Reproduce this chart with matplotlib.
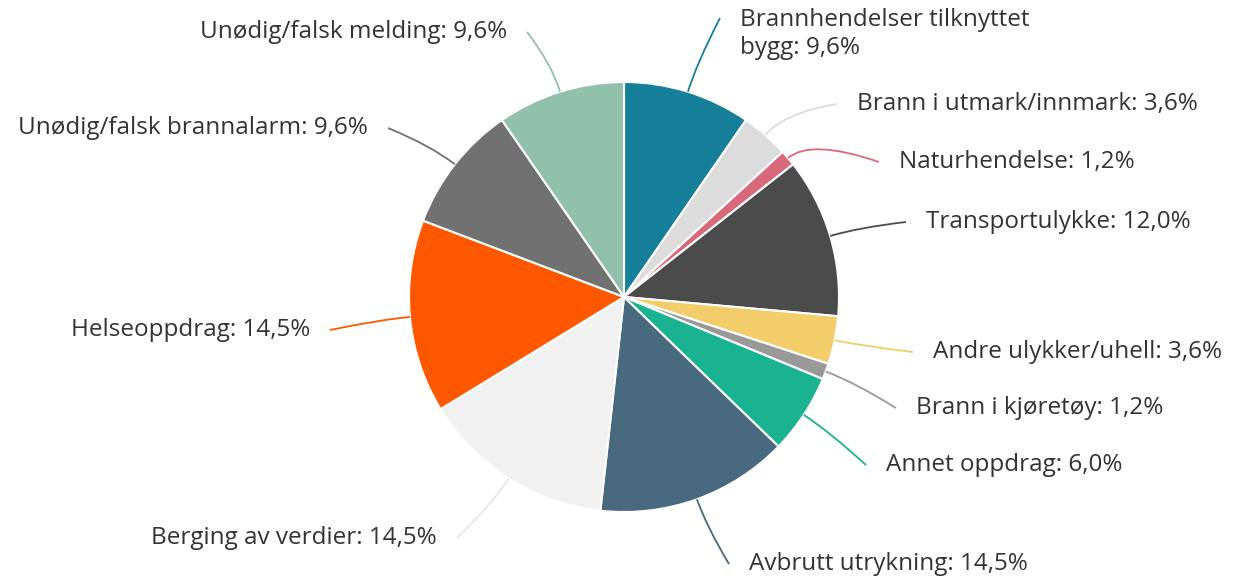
import matplotlib.pyplot as plt
import numpy as np
from matplotlib.path import Path
from matplotlib.patches import PathPatch

plt.rcParams['font.family'] = ['Open Sans', 'DejaVu Sans']

kategorier = ['Brannhendelser tilknyttet\nbygg', 'Brann i utmark/innmark', 'Naturhendelse',
              'Transportulykke', 'Andre ulykker/uhell', 'Brann i kjøretøy', 'Annet oppdrag',
              'Avbrutt utrykning', 'Berging av verdier', 'Helseoppdrag',
              'Unødig/falsk brannalarm', 'Unødig/falsk melding']
andeler = [9.6, 3.6, 1.2, 12.0, 3.6, 1.2, 6.0, 14.5, 14.5, 14.5, 9.6, 9.6]
farger = ['#16809a', '#dcdcdc', '#d8697b', '#4b4b4b', '#f2cd69', '#999999', '#19b391',
          '#49697f', '#f1f1f1', '#ff5800', '#717171', '#92c1ab']

# plassering av etiketter (piksler, y fra toppen)
etikett_pos = [(740, 34), (857, 104), (899, 162), (926, 222), (933, 352), (916, 408),
               (886, 465), (749, 564), (437, 538), (310, 330), (368, 128), (507, 32)]

W, H = 1239, 582
cx, cy, r = 624, 297, 215

fig = plt.figure(figsize=(W / 100, H / 100), dpi=100)
ax = fig.add_axes([0, 0, 1, 1])

wedges, _ = ax.pie(andeler, colors=farger, startangle=90, counterclock=False,
                   center=(cx, H - cy), radius=r,
                   wedgeprops={'edgecolor': 'white', 'linewidth': 1.5})
ax.set_xlim(0, W)
ax.set_ylim(0, H)
ax.set_aspect('equal')
ax.axis('off')

for w, navn, verdi, farge, (lx, ly) in zip(wedges, kategorier, andeler, farger, etikett_pos):
    vinkel = np.deg2rad((w.theta1 + w.theta2) / 2)
    p0 = (cx + r * np.cos(vinkel), H - cy + r * np.sin(vinkel))
    p1 = (cx + (r + 30) * np.cos(vinkel), H - cy + (r + 30) * np.sin(vinkel))
    hoyre = np.cos(vinkel) >= 0
    ly2 = ly - 16 if '\n' in navn else ly
    p2 = (lx - 20, H - ly2) if hoyre else (lx + 20, H - ly2)
    sti = Path([p0, p1, p2], [Path.MOVETO, Path.CURVE3, Path.CURVE3])
    strek = '#e8e8e8' if farge == '#f1f1f1' else farge
    ax.add_patch(PathPatch(sti, fill=False, edgecolor=strek, linewidth=1.3))
    tekst = f"{navn}: {verdi:.1f}%".replace('.', ',')
    ax.text(lx, H - ly, tekst, ha='left' if hoyre else 'right', va='center',
            fontsize=17.5, color='#333333', linespacing=1.25)

fig.savefig('out.png', dpi=100)
